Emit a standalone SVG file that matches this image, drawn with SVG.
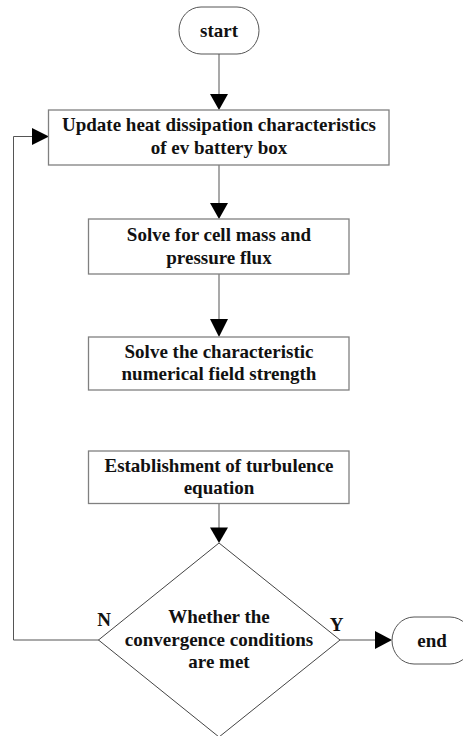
<svg xmlns="http://www.w3.org/2000/svg" width="463" height="736" viewBox="0 0 463 736">
<style>
.box{fill:#fff;stroke:#808080;stroke-width:1.3}
.term{fill:#fff;stroke:#555;stroke-width:1}
.dia{fill:#fff;stroke:#444;stroke-width:1}
.ln{fill:none;stroke:#8c8c8c;stroke-width:1.5}
.fb{fill:none;stroke:#555;stroke-width:1}
.ah{fill:#000}
text{font-family:"Liberation Serif","Times New Roman",serif;font-weight:bold;font-size:19px;fill:#111;text-anchor:middle}
</style>
<rect width="463" height="736" fill="#fff"/>
<g id="connectors">
<line class="ln" x1="219" y1="54" x2="219" y2="95"/>
<polygon class="ah" points="210,94 228,94 219,110"/>
<line class="ln" x1="219" y1="165" x2="219" y2="204"/>
<polygon class="ah" points="210,203 228,203 219,219"/>
<line class="ln" x1="219" y1="274" x2="219" y2="320"/>
<polygon class="ah" points="210,319 228,319 219,337"/>
<line class="ln" x1="219" y1="503" x2="219" y2="528"/>
<polygon class="ah" points="210,527.5 228,527.5 219,543"/>
<polyline class="fb" points="99,640 13.5,640 13.5,136.5 33,136.5"/>
<polygon class="ah" points="32,128 49,136.5 32,145"/>
<line class="ln" x1="340" y1="640" x2="376" y2="640"/>
<polygon class="ah" points="375,631 392,640 375,649"/>
</g>
<g id="start">
<rect class="term" x="179" y="7" width="80" height="47" rx="22" ry="23.5"/>
<text x="219" y="37">start</text>
</g>
<g id="update">
<rect class="box" x="48.5" y="110" width="340.5" height="55"/>
<text x="219" y="131">Update heat dissipation characteristics</text>
<text x="219" y="154">of ev battery box</text>
</g>
<g id="solve-mass">
<rect class="box" x="88.5" y="219" width="260.5" height="55"/>
<text x="219" y="241">Solve for cell mass and</text>
<text x="219" y="263.5">pressure flux</text>
</g>
<g id="solve-field">
<rect class="box" x="88.5" y="337" width="260.5" height="53"/>
<text x="219" y="357.5">Solve the characteristic</text>
<text x="219" y="380">numerical field strength</text>
</g>
<g id="turbulence">
<rect class="box" x="88.5" y="451" width="260.5" height="52.5"/>
<text x="219" y="472">Establishment of turbulence</text>
<text x="219" y="494">equation</text>
</g>
<g id="decision">
<polygon class="dia" points="219,543 340,640 219,737 98.5,640"/>
<text x="219" y="623">Whether the</text>
<text x="219" y="646">convergence conditions</text>
<text x="219" y="668">are met</text>
</g>
<g id="labels">
<text x="104" y="626">N</text>
<text x="336.5" y="631">Y</text>
</g>
<g id="end">
<rect class="term" x="392" y="617" width="80" height="47" rx="22" ry="23.5"/>
<text x="432" y="647">end</text>
</g>
</svg>
